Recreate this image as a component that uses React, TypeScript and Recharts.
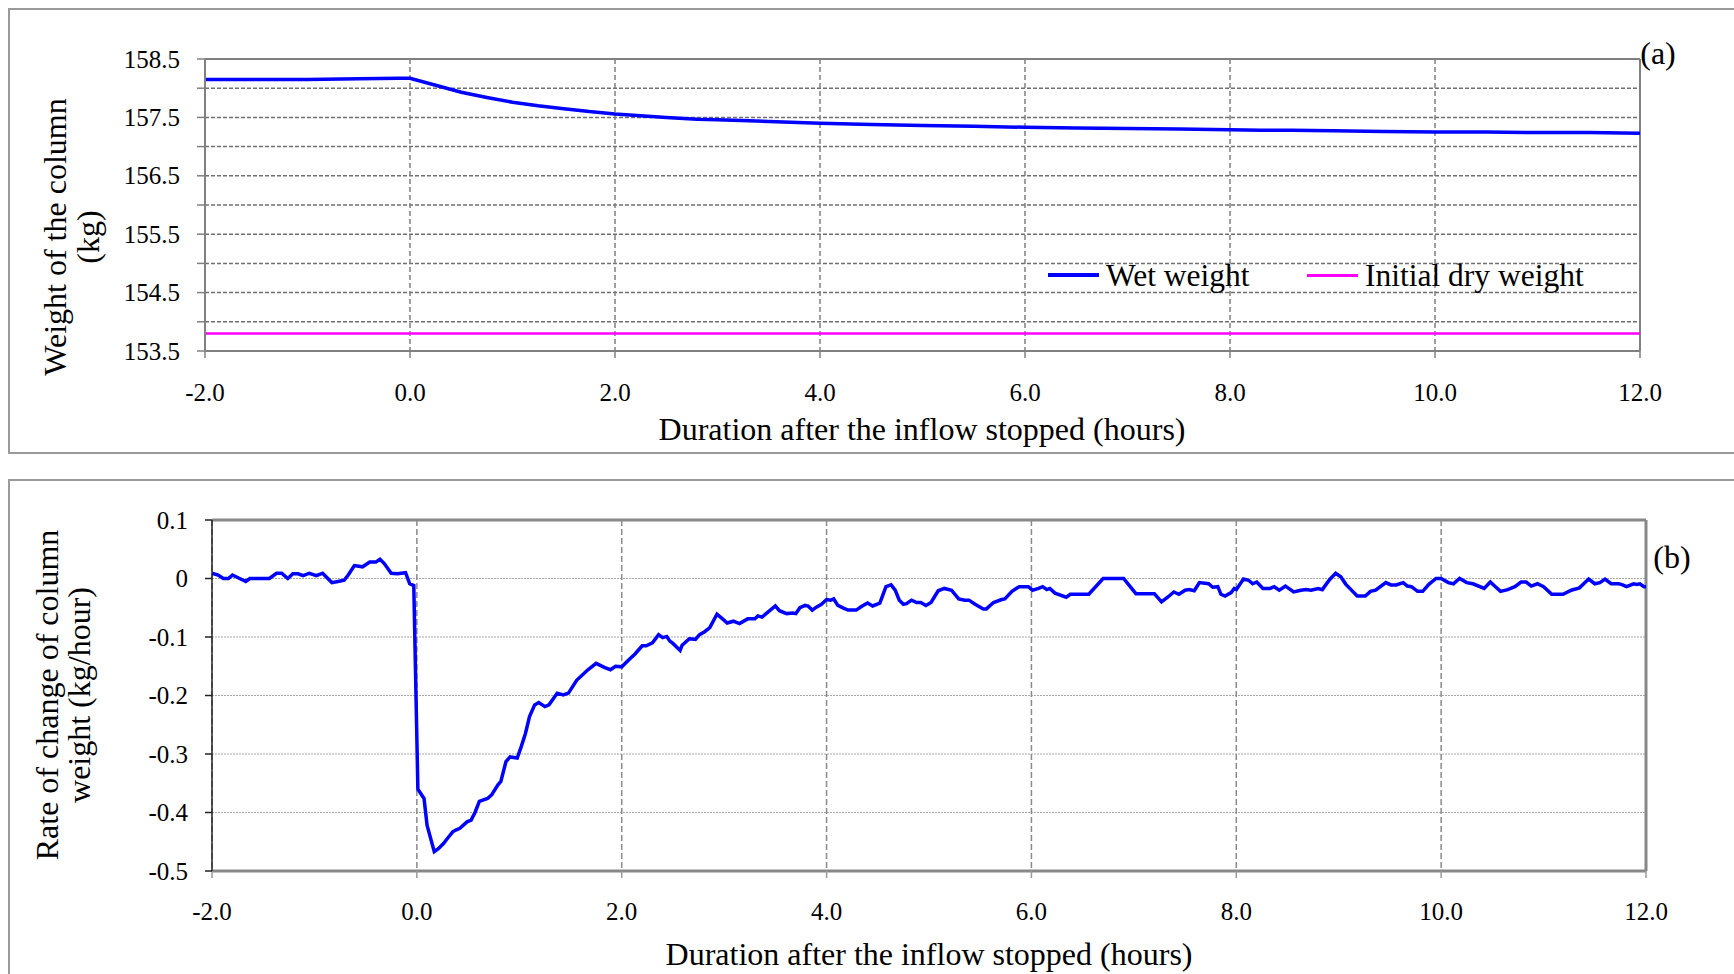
import { LineChart, Line, XAxis, YAxis, CartesianGrid, ReferenceLine } from "recharts";

// panel (a): column weight
const wetHours = [-2, -1, -0.5, -0.1, 0, 0.25, 0.5, 0.75, 1.0, 1.25, 1.5, 1.75, 2.0, 2.5, 2.8, 3.0, 3.5, 4.0, 4.5, 5.0, 5.5, 6.0, 6.5, 7.0, 7.5, 8.0, 8.3, 8.6, 9.0, 9.5, 10.0, 10.5, 11.0, 11.5, 12.0];
const wetWeights = [158.15, 158.15, 158.16, 158.17, 158.17, 158.05, 157.93, 157.84, 157.76, 157.70, 157.65, 157.60, 157.56, 157.50, 157.47, 157.46, 157.43, 157.40, 157.38, 157.36, 157.35, 157.33, 157.32, 157.31, 157.30, 157.29, 157.28, 157.28, 157.27, 157.26, 157.25, 157.25, 157.24, 157.24, 157.23];
const initialDryWeight = 153.8;
const weightTicks = [153.5, 154, 154.5, 155, 155.5, 156, 156.5, 157, 157.5, 158, 158.5];
const weightLabels = [153.5, 154.5, 155.5, 156.5, 157.5, 158.5];

// panel (b): rate of change
const rateHours = [
  -2.0, -1.94, -1.89, -1.84, -1.8, -1.73, -1.67, -1.63, -1.44, -1.37, -1.32, -1.26, -1.21, -1.16, -1.11, -1.05, -0.98, -0.92,
  -0.83, -0.77, -0.71, -0.67, -0.61, -0.53, -0.46, -0.4, -0.36, -0.32, -0.25, -0.19, -0.11, -0.07, -0.03,
  0.01, 0.07, 0.1, 0.17, 0.21, 0.26, 0.3, 0.35, 0.38, 0.42, 0.49, 0.53, 0.57, 0.61, 0.69, 0.73, 0.79, 0.82, 0.87, 0.91, 0.98,
  1.02, 1.06, 1.1, 1.15, 1.19, 1.25, 1.29, 1.37, 1.43, 1.48, 1.56, 1.67, 1.75, 1.83, 1.89, 1.94,
  2.0, 2.07, 2.13, 2.2, 2.24, 2.3, 2.36, 2.4, 2.44, 2.47, 2.5, 2.57, 2.59, 2.66, 2.72, 2.76, 2.81, 2.86, 2.93, 2.99,
  3.03, 3.09, 3.15, 3.23, 3.3, 3.33, 3.37, 3.43, 3.5, 3.54, 3.61, 3.67, 3.7, 3.74, 3.79, 3.82, 3.86, 3.9, 3.95,
  4.0, 4.04, 4.07, 4.11, 4.17, 4.21, 4.29, 4.34, 4.4, 4.45, 4.52, 4.58, 4.63, 4.67, 4.71, 4.75, 4.78, 4.83, 4.88, 4.92, 4.97,
  5.02, 5.09, 5.15, 5.22, 5.29, 5.35, 5.39, 5.45, 5.53, 5.56, 5.63, 5.71, 5.74, 5.81, 5.88, 5.97,
  6.01, 6.07, 6.11, 6.15, 6.18, 6.23, 6.34, 6.38, 6.56, 6.7, 6.9,
  7.02, 7.2, 7.27, 7.33, 7.39, 7.44, 7.5, 7.54, 7.59, 7.64, 7.73, 7.77, 7.82, 7.85, 7.89, 7.95, 7.98,
  8.0, 8.07, 8.12, 8.16, 8.2, 8.26, 8.33, 8.37, 8.42, 8.48, 8.56, 8.63, 8.68, 8.73, 8.8, 8.84, 8.91, 8.97,
  9.02, 9.07, 9.12, 9.18, 9.26, 9.31, 9.36, 9.46, 9.51, 9.56, 9.63, 9.67, 9.71, 9.77, 9.82, 9.88, 9.95,
  10.0, 10.07, 10.12, 10.18, 10.25, 10.31, 10.42, 10.48, 10.53, 10.58, 10.65, 10.72, 10.78, 10.83, 10.88, 10.94,
  11.0, 11.08, 11.19, 11.27, 11.35, 11.44, 11.5, 11.55, 11.6, 11.66, 11.73, 11.76, 11.81, 11.88, 11.91, 11.94, 11.98, 12.0,
];
const rateValues = [
  0.009, 0.006, 0.0, 0.0, 0.006, 0.0, -0.005, 0.0, 0.0, 0.009, 0.009, 0.0, 0.008, 0.008, 0.005, 0.009, 0.005, 0.009,
  -0.007, -0.005, -0.003, 0.006, 0.022, 0.02, 0.028, 0.028, 0.033, 0.026, 0.009, 0.008, 0.01, -0.009, -0.012,
  -0.36, -0.376, -0.422, -0.467, -0.462, -0.453, -0.444, -0.433, -0.43, -0.427, -0.416, -0.413, -0.399, -0.381, -0.376, -0.37, -0.353, -0.347, -0.313, -0.305, -0.307,
  -0.287, -0.265, -0.236, -0.216, -0.212, -0.219, -0.216, -0.196, -0.199, -0.196, -0.174, -0.156, -0.145, -0.152, -0.156, -0.15,
  -0.151, -0.139, -0.129, -0.115, -0.115, -0.11, -0.096, -0.101, -0.099, -0.107, -0.111, -0.123, -0.114, -0.103, -0.104, -0.096, -0.091, -0.084, -0.061, -0.07,
  -0.076, -0.073, -0.077, -0.069, -0.069, -0.064, -0.066, -0.057, -0.047, -0.055, -0.06, -0.059, -0.06, -0.05, -0.046, -0.047, -0.054, -0.049, -0.044,
  -0.036, -0.037, -0.035, -0.046, -0.051, -0.054, -0.054, -0.048, -0.042, -0.047, -0.042, -0.014, -0.011, -0.02, -0.037, -0.044, -0.043, -0.037, -0.041, -0.041, -0.046,
  -0.041, -0.021, -0.017, -0.02, -0.035, -0.037, -0.037, -0.044, -0.052, -0.052, -0.041, -0.036, -0.035, -0.022, -0.014, -0.014,
  -0.02, -0.017, -0.014, -0.019, -0.017, -0.025, -0.032, -0.027, -0.027, 0.0, 0.0,
  -0.026, -0.026, -0.04, -0.032, -0.023, -0.027, -0.02, -0.019, -0.021, -0.007, -0.009, -0.015, -0.014, -0.027, -0.03, -0.024, -0.017,
  -0.019, -0.001, -0.003, -0.009, -0.006, -0.017, -0.017, -0.014, -0.02, -0.013, -0.023, -0.02, -0.019, -0.02, -0.017, -0.019, -0.002, 0.009,
  0.003, -0.01, -0.019, -0.03, -0.03, -0.022, -0.02, -0.007, -0.011, -0.011, -0.007, -0.013, -0.014, -0.022, -0.022, -0.01, 0.0,
  0.0, -0.007, -0.009, 0.0, -0.007, -0.009, -0.017, -0.006, -0.014, -0.022, -0.019, -0.014, -0.006, -0.006, -0.013, -0.009,
  -0.014, -0.027, -0.027, -0.02, -0.016, -0.001, -0.009, -0.007, -0.001, -0.009, -0.009, -0.01, -0.014, -0.009, -0.01, -0.009, -0.014, -0.014,
];
const rateTicks = [-0.5, -0.4, -0.3, -0.2, -0.1, 0, 0.1];

const hourTicks = [-2, 0, 2, 4, 6, 8, 10, 12];

const FONT = "'Liberation Serif', 'Times New Roman', serif";
const BLUE = "#0000ff";
const MAGENTA = "#ff00ff";

const weightData = wetHours.map((h, i) => ({ h, wet: wetWeights[i], dry: initialDryWeight }));
const rateData = rateHours.map((h, i) => ({ h, rate: rateValues[i] }));

const WeightTick = ({ x, y, payload }: any) => {
  if (!weightLabels.includes(payload.value)) return null;
  return (
    <text x={x} y={y} textAnchor="end" dominantBaseline="central" fontSize={25} fontFamily={FONT} fill="#000">
      {payload.value.toFixed(1)}
    </text>
  );
};

const RateTick = ({ x, y, payload }: any) => (
  <text x={x} y={y} textAnchor="end" dominantBaseline="central" fontSize={25} fontFamily={FONT} fill="#000">
    {payload.value === 0 ? "0" : payload.value.toFixed(1)}
  </text>
);

const HourTick = ({ x, y, payload }: any) => (
  <text x={x} y={y} dy="0.71em" textAnchor="middle" fontSize={25} fontFamily={FONT} fill="#000">
    {payload.value.toFixed(1)}
  </text>
);

function Text({ left, top, children, rotate = false, size = 32, lineHeight = 36 }: any) {
  return (
    <div
      style={{
        position: "absolute",
        left,
        top,
        transform: `translate(-50%, -50%)${rotate ? " rotate(-90deg)" : ""}`,
        whiteSpace: "nowrap",
        textAlign: "center",
        fontFamily: FONT,
        fontSize: size,
        lineHeight: `${lineHeight}px`,
        color: "#000",
      }}
    >
      {children}
    </div>
  );
}

export default function App() {
  return (
    <div style={{ position: "absolute", left: 0, top: 0, width: 1734, height: 974, overflow: "hidden", background: "#fff" }}>
      {/* panel frames */}
      <div style={{ position: "absolute", left: 8, top: 8, width: 1760, height: 442, border: "2px solid #9a9a9a" }} />
      <div style={{ position: "absolute", left: 8, top: 479, width: 1760, height: 540, border: "2px solid #9a9a9a" }} />

      {/* (a) */}
      <div style={{ position: "absolute", left: 0, top: 0 }}>
        <LineChart width={1734} height={460} data={weightData} margin={{ top: 59, right: 94, bottom: 49, left: 145 }}>
          <CartesianGrid horizontal={true} vertical={false} stroke="#6f6f6f" strokeWidth={1.5} strokeDasharray="4 2" />
          <CartesianGrid horizontal={false} vertical={true} stroke="#808080" strokeWidth={1.5} strokeDasharray="5 3" />
          <XAxis
            dataKey="h"
            type="number"
            domain={[-2, 12]}
            ticks={hourTicks}
            height={60}
            tick={<HourTick />}
            tickSize={7}
            tickMargin={25}
            axisLine={{ stroke: "#808080", strokeWidth: 2 }}
            tickLine={{ stroke: "#808080", strokeWidth: 1.5 }}
          />
          <YAxis
            type="number"
            domain={[153.5, 158.5]}
            ticks={weightTicks}
            allowDataOverflow
            width={60}
            tick={<WeightTick />}
            tickSize={8}
            tickMargin={17}
            axisLine={{ stroke: "#808080", strokeWidth: 2 }}
            tickLine={{ stroke: "#808080", strokeWidth: 1.5 }}
          />
          <ReferenceLine y={158.5} stroke="#808080" strokeWidth={2} />
          <ReferenceLine x={12} stroke="#808080" strokeWidth={2} />
          <Line dataKey="dry" type="linear" stroke={MAGENTA} strokeWidth={2.5} dot={false} isAnimationActive={false} />
          <Line dataKey="wet" type="linear" stroke={BLUE} strokeWidth={3.5} dot={false} isAnimationActive={false} />
        </LineChart>
      </div>
      <Text left={72} top={237} rotate lineHeight={33}>
        <div>Weight of the column</div>
        <div>(kg)</div>
      </Text>
      <Text left={922} top={429}>Duration after the inflow stopped (hours)</Text>
      <Text left={1658} top={53}>(a)</Text>

      {/* legend */}
      <div style={{ position: "absolute", left: 1048, top: 273, width: 51, height: 3.5, background: BLUE }} />
      <div style={{ position: "absolute", left: 1106, top: 276, transform: "translateY(-50%)", fontFamily: FONT, fontSize: 31.5, whiteSpace: "nowrap" }}>
        Wet weight
      </div>
      <div style={{ position: "absolute", left: 1307, top: 274, width: 51, height: 2.5, background: MAGENTA }} />
      <div style={{ position: "absolute", left: 1365, top: 276, transform: "translateY(-50%)", fontFamily: FONT, fontSize: 31.5, whiteSpace: "nowrap" }}>
        Initial dry weight
      </div>

      {/* (b) */}
      <div style={{ position: "absolute", left: 0, top: 460 }}>
        <LineChart width={1734} height={514} data={rateData} margin={{ top: 60, right: 88, bottom: 43, left: 152 }}>
          <CartesianGrid horizontal={true} vertical={false} stroke="#a8a8a8" strokeWidth={1} strokeDasharray="2 1" />
          <CartesianGrid horizontal={false} vertical={true} stroke="#8a8a8a" strokeWidth={1.5} strokeDasharray="6 3" />
          <XAxis
            dataKey="h"
            type="number"
            domain={[-2, 12]}
            ticks={hourTicks}
            height={60}
            tick={<HourTick />}
            tickSize={7}
            tickMargin={24}
            axisLine={{ stroke: "#888888", strokeWidth: 3 }}
            tickLine={{ stroke: "#9a9a9a", strokeWidth: 1.5 }}
          />
          <YAxis
            type="number"
            domain={[-0.5, 0.1]}
            ticks={rateTicks}
            allowDataOverflow
            width={60}
            tick={<RateTick />}
            tickSize={7}
            tickMargin={17}
            axisLine={{ stroke: "#222", strokeWidth: 1.5 }}
            tickLine={{ stroke: "#222", strokeWidth: 1.5 }}
          />
          <ReferenceLine y={0.1} stroke="#888888" strokeWidth={3} />
          <ReferenceLine x={12} stroke="#888888" strokeWidth={3} />
          <Line dataKey="rate" type="linear" stroke={BLUE} strokeWidth={3.5} dot={false} isAnimationActive={false} />
        </LineChart>
      </div>
      <Text left={63} top={695} rotate lineHeight={32}>
        <div>Rate of change of column</div>
        <div>weight (kg/hour)</div>
      </Text>
      <Text left={929} top={954}>Duration after the inflow stopped (hours)</Text>
      <Text left={1672} top={557}>(b)</Text>
    </div>
  );
}
